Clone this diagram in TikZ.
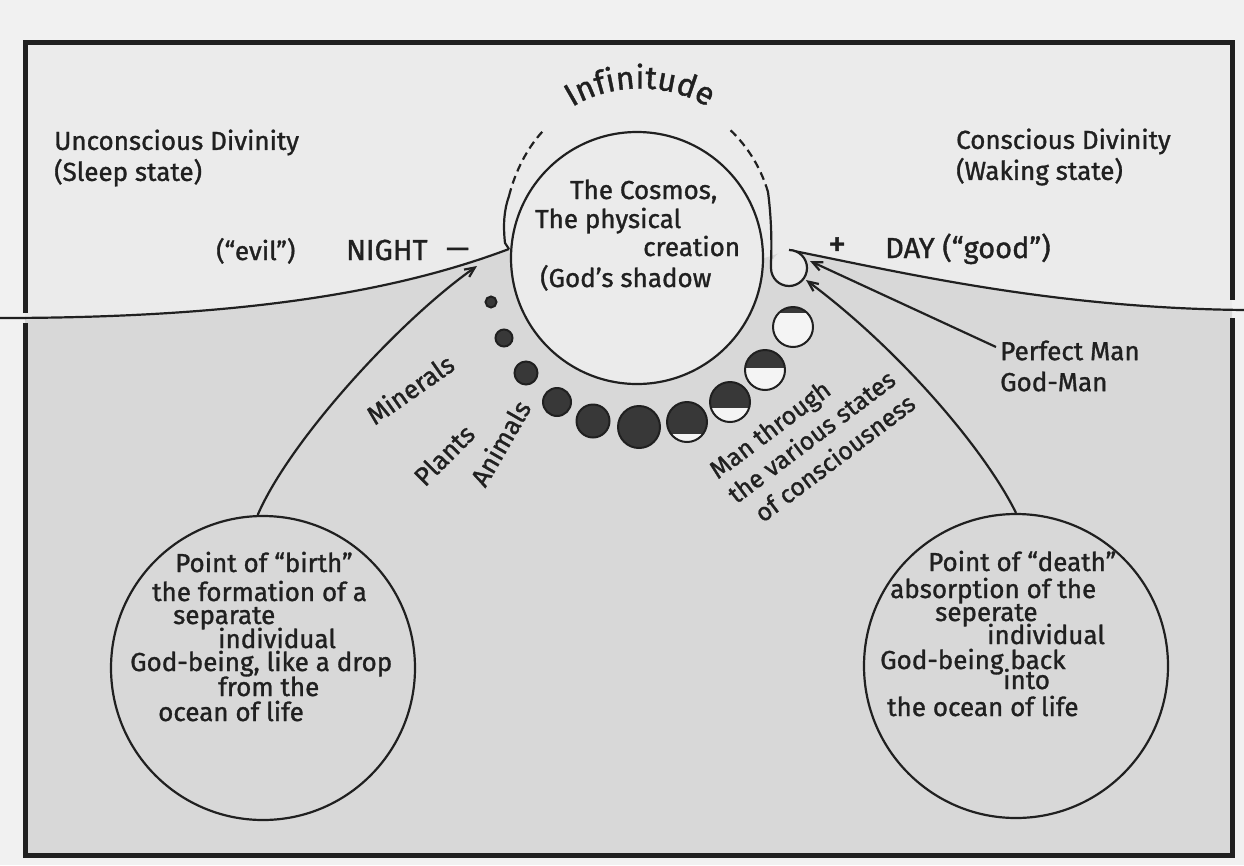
\documentclass[tikz,border=0pt]{standalone}
\usepackage{fontspec}
\setmainfont{Fira Sans}[FakeBold=1.2]
\usetikzlibrary{arrows.meta, decorations.text}

\definecolor{paper}{HTML}{F1F1F1}
\definecolor{upperzone}{HTML}{EBEBEB}
\definecolor{lowerzone}{HTML}{D8D8D8}
\definecolor{ink}{HTML}{202020}
\definecolor{moondark}{HTML}{383838}
\definecolor{moonlight}{HTML}{F4F4F4}

\tikzset{
  inkline/.style={draw=ink, line width=2.2pt},
  arr/.style={inkline, -{Straight Barb[length=10pt, width=9pt]}},
  ring/.style={circle, draw=ink, line width=2.2pt, inner sep=0pt},
  hand/.style={text=ink, font=\fontsize{26}{31}\selectfont, inner sep=0pt},
  handline/.style={hand, anchor=west, text height=18pt, text depth=6pt},
  bigcaps/.style={handline, font=\fontsize{29}{31}\selectfont},
  frameline/.style={draw=ink, line width=5pt},
}

\begin{document}
\begin{tikzpicture}[x=1pt, y=-1pt]
  \useasboundingbox (0,0) rectangle (1244,865);
  \fill[paper] (0,0) rectangle (1244,865);

  % points where the lines meet the cosmos
  \coordinate (nightpt) at (509,249);
  \coordinate (daypt) at (789,250);
  \coordinate (nightin) at (477,266);
  \coordinate (dayin1) at (810,261);
  \coordinate (dayin2) at (806,280);

  % light and shaded zones
  \begin{scope}
    \clip (25,42) rectangle (1232,855);
    \fill[upperzone] (25,42) rectangle (1232,855);
    \fill[lowerzone] (0,318) .. controls (250,318) and (400,290) .. (nightpt) -- (637,300) -- (daypt)
      .. controls (900,272) and (1050,308) .. (1244,310) -- (1244,865) -- (0,865) -- cycle;
  \end{scope}

  \node[ring, fill=upperzone, minimum size=252pt] (cosmos) at (637,258) {};
  \node[ring, minimum size=304pt] (birth) at (263,668) {};
  \node[ring, minimum size=304pt] (death) at (1016,666) {};

  % horizon lines
  \draw[inkline] (nightpt) .. controls (400,290) and (250,318) .. (0,318);
  \draw[inkline] (daypt) .. controls (900,272) and (1050,308) .. (1244,310);

  % boundary of infinitude
  \fill[upperzone] (789,268) circle[radius=18];
  \draw[inkline] (nightpt) -- (505,243) .. controls (503,225) and (504,210) .. (509,196);
  \draw[inkline, dash pattern=on 8pt off 5pt] (509,196) .. controls (515,172) and (527,148) .. (543,131);
  \draw[inkline] (daypt) arc[start angle=-90, end angle=180, radius=18] -- (771,262)
    .. controls (772,240) and (771,215) .. (768,192);
  \draw[inkline, dash pattern=on 8pt off 5pt] (768,192) .. controls (760,165) and (745,143) .. (727,127);
  \path[decorate, decoration={text along path, text align=center, text color=ink,
    text={|\fontsize{32}{32}\selectfont|Infinitude}}] (550,126) .. controls (594,76) and (686,76) .. (730,126);

  % stages of consciousness
  \foreach \mx/\my/\mr/\cut in {491/302/5.5/310, 504/338/8.5/350, 526/373/11.5/390, 557/402/14/420,
      593/421/16.5/440, 639/427/21/450, 687/422/20/434, 730/402/20/408, 765/370/20/368, 793/327/20/313}{
    \begin{scope}
      \clip (\mx,\my) circle[radius=\mr];
      \fill[moonlight] (\mx-\mr,\my-\mr) rectangle (\mx+\mr,\my+\mr);
      \fill[moondark] (\mx-\mr,\my-\mr) rectangle (\mx+\mr,\cut);
    \end{scope}
    \draw[ink, line width=2pt] (\mx,\my) circle[radius=\mr];
  }

  % arrows
  \node[hand, align=left, anchor=west] (perfect) at (1000,366) {Perfect Man\\God-Man};
  \draw[arr] (birth.92) .. controls (290,440) and (400,320) .. (nightin);
  \draw[arr] ([xshift=-4pt, yshift=19pt]perfect.west) -- (dayin1);
  \draw[arr] (death.north) .. controls (985,450) and (900,350) .. (dayin2);

  % labels
  \node[hand, align=left, anchor=west] (sleep) at (54,158) {Unconscious Divinity\\(Sleep state)};
  \node[hand, align=left, anchor=west] (waking) at (956,157) {Conscious Divinity\\(Waking state)};
  \node[handline] (evil) at (216,254) {(“evil”)};
  \node[bigcaps] (night) at (346,254) {NIGHT};
  \node[bigcaps] (minus) at (446,252) {—};
  \node[bigcaps, font=\fontsize{36}{36}\selectfont] (plus) at (828,250) {+};
  \node[bigcaps] (day) at (885,252) {DAY (“good”)};

  \node[handline] (cos1) at (570,193) {The Cosmos,};
  \node[handline] (cos2) at (535,222) {The physical};
  \node[handline] (cos3) at (643,250) {creation};
  \node[handline] (cos4) at (540,281) {(God’s shadow};

  \node[hand, rotate=35] (minerals) at (410,389) {Minerals};
  \node[hand, rotate=45] (plants) at (444,455) {Plants};
  \node[hand, rotate=60] (animals) at (500,443) {Animals};
  \node[hand, rotate=37, align=left, font=\fontsize{25}{31}\selectfont] (man) at (812,436)
    {Man through\\the various states\\\hspace{10pt}of consciousness};

  \foreach \tx/\ty/\tt [count=\i] in {175/566/{Point of “birth”}, 152/595/{the formation of a},
      173/618/{separate}, 218/642/{individual}, 130/665/{God-being, like a drop},
      218/690/{from the}, 158/715/{ocean of life}}{
    \node[handline] (birth\i) at (\tx,\ty) {\tt};
  }
  \foreach \tx/\ty/\tt [count=\i] in {928/565/{Point of “death”}, 890/592/{absorption of the},
      935/615/{seperate}, 987/638/{individual}, 880/663/{God-being back},
      1003/683/{into}, 887/710/{the ocean of life}}{
    \node[handline] (death\i) at (\tx,\ty) {\tt};
  }

  % frame, open where the horizon lines leave it
  \draw[frameline] (25,313) -- (25,42) -- (1232,42) -- (1232,300);
  \draw[frameline] (25,323) -- (25,855) -- (1232,855) -- (1232,318);
\end{tikzpicture}
\end{document}
